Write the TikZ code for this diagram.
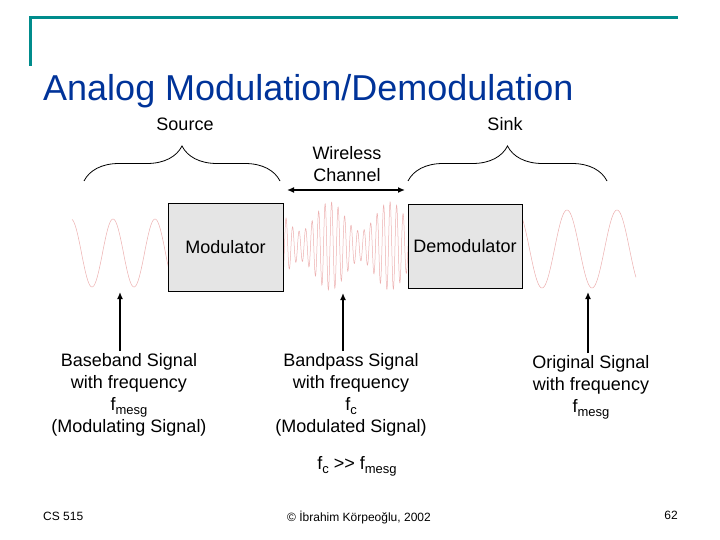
\documentclass[tikz,border=0pt]{standalone}
\usepackage{fontspec}
\setmainfont{Liberation Sans}
\usetikzlibrary{arrows.meta,positioning,decorations.pathreplacing}
\definecolor{slideteal}{RGB}{0,140,140}
\definecolor{titleblue}{RGB}{0,51,153}
\definecolor{wavepink}{RGB}{236,175,175}
\newcommand{\lowsub}[1]{\raisebox{-4pt}{\fontsize{13}{13}\selectfont #1}}

\begin{document}
\begin{tikzpicture}[
  x=1pt,y=-1pt,
  t/.style={align=center,font=\fontsize{18}{22}\selectfont,inner sep=2pt},
  box/.style={draw,fill=black!10,minimum width=115pt,minimum height=88pt,font=\fontsize{18}{22}\selectfont},
  w/.style={draw=wavepink,line width=0.5pt},
  a/.style={-{Latex[length=7pt,width=6pt]},line width=1.3pt},
  br/.style={decorate,decoration={brace,amplitude=35pt},line width=0.8pt},
  foot/.style={font=\fontsize{12}{14}\selectfont,inner sep=0pt}
]
\useasboundingbox (0,0) rectangle (720,540);
% slide frame and title
\draw[slideteal,line width=3pt] (30,66) -- (30,18) -- (678,18);
\node[anchor=base west,inner sep=0pt,text=titleblue,font=\fontsize{36}{40}\selectfont] (title) at (43,101) {Analog Modulation/Demodulation};

% signals (behind the boxes)
\draw[w] plot[domain=72:170,samples=200] (\x,{253-34*cos(8.5714*(\x-113))});
\draw[w] plot[domain=278:412,samples=600] (\x,{246-(29.5+14.5*cos(6*(\x-330)))*sin(55.385*(\x-278))});
\draw[w] plot[domain=520:636,samples=200] (\x,{249-39*cos(7.2*(\x-567))});

\node[box] (mod) at (225.5,247) {Modulator};
\node[box,minimum width=114pt,minimum height=84pt] (demod) at (465,246) {Demodulator};

% ends and channel
\node[t] (src) at (185,124) {Source};
\node[t] (sink) at (505,124) {Sink};
\draw[br] (84,181) -- (280,181);
\draw[br] (408,181) -- (607,181);
\node[t] (chan) at (347,164) {Wireless\\Channel};
\coordinate (chL) at (287,190);
\coordinate (chR) at (405,190);
\draw[a,{Latex[length=7pt,width=6pt]}-{Latex[length=7pt,width=6pt]}] (chL) -- (chR);

% signal labels
\node[t,anchor=north] (bb) at (129,351) {Baseband Signal\\with frequency\\f\lowsub{mesg}\\(Modulating Signal)};
\node[t,anchor=north] (bp) at (351,351) {Bandpass Signal\\with frequency\\f\lowsub{c}\\(Modulated Signal)};
\node[t,anchor=north] (orig) at (591,353) {Original Signal\\with frequency\\f\lowsub{mesg}};
\coordinate (tipA) at (120,292);
\coordinate (tipB) at (343,293);
\coordinate (tipC) at (588,292);
\draw[a] (bb.north -| tipA) -- (tipA);
\draw[a] (bp.north -| tipB) -- (tipB);
\draw[a] (orig.north -| tipC) -- (tipC);
\node[t] (cond) at (357,466) {f\lowsub{c} >{}> f\lowsub{mesg}};

% footer
\node[foot,anchor=base west] (course) at (43,520) {CS 515};
\node[foot,anchor=base] (copy) at (359,521) {© İbrahim Körpeoğlu, 2002};
\node[foot,anchor=base east] (page) at (678,519) {62};
\end{tikzpicture}
\end{document}
